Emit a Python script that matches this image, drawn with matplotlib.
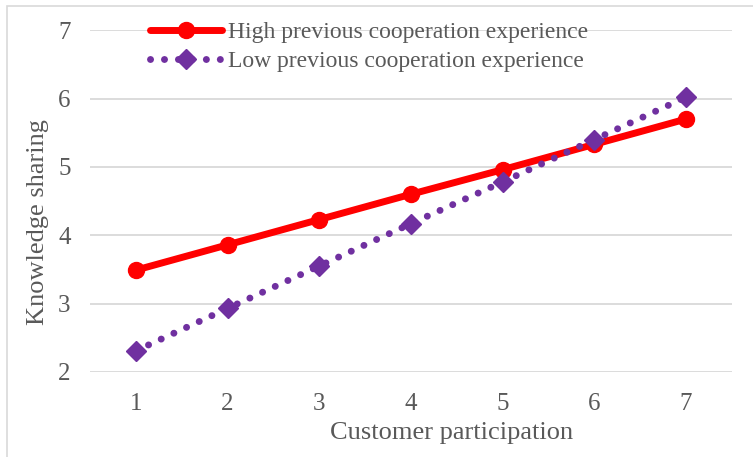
import matplotlib.pyplot as plt
from matplotlib.patches import Rectangle

# data
participation = [1, 2, 3, 4, 5, 6, 7]
high_coop = [3.49, 3.86, 4.23, 4.60, 4.96, 5.33, 5.70]
low_coop = [2.31, 2.93, 3.55, 4.17, 4.78, 5.40, 6.02]
y_ticks = [2, 3, 4, 5, 6, 7]

plt.rcParams['font.family'] = ['Liberation Serif', 'DejaVu Serif']
text_color = '#595959'

fig = plt.figure(figsize=(7.53, 4.57), dpi=100)
ax = fig.add_axes([0.1195, 0.186, 0.8525, 0.748])

# outer chart frame
fig.patches.append(Rectangle((0.009, -0.01), 0.995, 0.996, transform=fig.transFigure,
                             fill=False, edgecolor='#d9d9d9', linewidth=1.2))

ax.plot(participation, high_coop, color='#ff0000', linewidth=5,
        marker='o', markersize=11.5, solid_capstyle='round',
        label='High previous cooperation experience', zorder=3)
ax.plot(participation, low_coop, color='#7030a0', linewidth=5,
        linestyle=(0, (0.01, 2.0)), dash_capstyle='round',
        marker='D', markersize=10,
        label='Low previous cooperation experience', zorder=4)

ax.set_xlim(0.5, 7.5)
ax.set_ylim(2, 7)
ax.set_xticks(participation)
ax.set_yticks(y_ticks)
ax.grid(axis='y', color='#d9d9d9', linewidth=1.3)
ax.set_axisbelow(True)
for s in ax.spines.values():
    s.set_visible(False)
ax.tick_params(length=0, labelsize=18, labelcolor=text_color)
ax.tick_params(axis='x', pad=15)
ax.tick_params(axis='y', pad=14)

ax.set_xlabel('Customer participation', fontsize=19, color=text_color, va='center')
ax.set_ylabel('Knowledge sharing', fontsize=19, color=text_color, va='center')
ax.xaxis.set_label_coords(0.564, -0.178)
ax.yaxis.set_label_coords(-0.081, 0.44)

ax.legend(loc='upper left', bbox_to_anchor=(0.0935, 1.025), frameon=False,
          fontsize=17, labelcolor=text_color, handlelength=3.05,
          handletextpad=0.25, labelspacing=0.32, borderpad=0, borderaxespad=0)

fig.savefig('out.png', dpi=100)
